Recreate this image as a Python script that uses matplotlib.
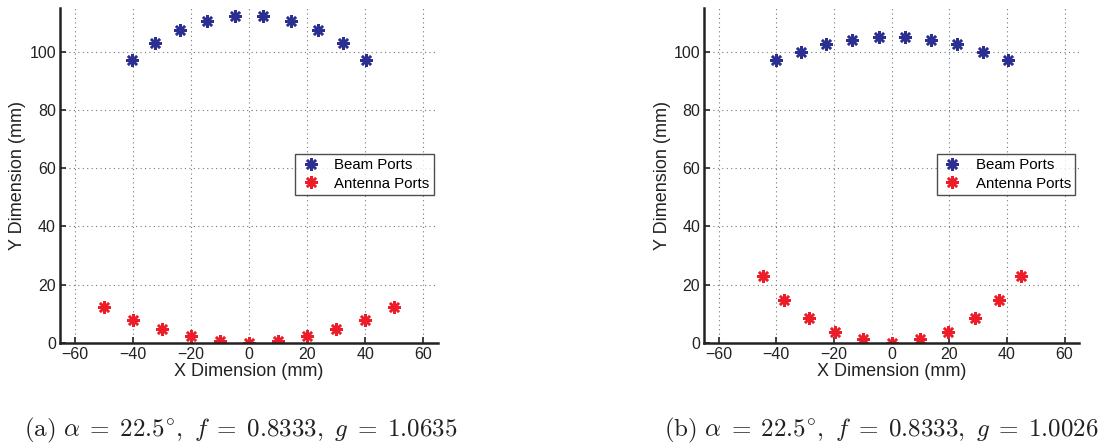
#!/usr/bin/env python3
# -*- coding: utf-8 -*-
"""
Beam port and antenna port positions for two lens designs
"""

import matplotlib.pyplot as plt

plt.rcParams["font.family"] = ["Liberation Sans", "DejaVu Sans"]
plt.rcParams["mathtext.fontset"] = "cm"

# port positions (mm), design (a)
beam_x_a = [-40.1, -32.5, -23.8, -14.6, -4.8, 4.8, 14.6, 23.8, 32.5, 40.1]
beam_y_a = [97.0, 102.9, 107.5, 110.5, 112.3, 112.3, 110.5, 107.5, 102.9, 97.0]
ant_x_a = [-50, -40, -30, -20, -10, 0, 10, 20, 30, 40, 50]
ant_y_a = [12.3, 7.9, 4.7, 2.3, 0.6, 0.0, 0.6, 2.3, 4.7, 7.9, 12.3]

# port positions (mm), design (b)
beam_x_b = [-40.2, -31.6, -22.8, -13.6, -4.5, 4.5, 13.6, 22.8, 31.6, 40.2]
beam_y_b = [97.0, 99.9, 102.6, 104.1, 105.0, 105.0, 104.1, 102.6, 99.9, 97.0]
ant_x_b = [-44.7, -37.2, -28.8, -19.6, -9.9, 0, 9.9, 19.6, 28.8, 37.2, 44.7]
ant_y_b = [22.8, 14.7, 8.4, 3.8, 1.2, 0.0, 1.2, 3.8, 8.4, 14.7, 22.8]

captions = [
    r"$\mathrm{(a)}\ \alpha\;=\;22.5^{\circ},\ f\;=\;0.8333,\ g\;=\;1.0635$",
    r"$\mathrm{(b)}\ \alpha\;=\;22.5^{\circ},\ f\;=\;0.8333,\ g\;=\;1.0026$",
]

x_ticks = [-60, -40, -20, 0, 20, 40, 60]
y_ticks = [0, 20, 40, 60, 80, 100]

blue = "#2b3090"
red = "#ec1c28"

fig = plt.figure(figsize=(11.06, 4.48), dpi=100)

panels = [
    (beam_x_a, beam_y_a, ant_x_a, ant_y_a, [0.0543, 0.235, 0.3417, 0.747], 0.218),
    (beam_x_b, beam_y_b, ant_x_b, ant_y_b, [0.6368, 0.235, 0.3388, 0.747], 0.797),
]

for (bx, by, ax_, ay, pos, cap_x), caption in zip(panels, captions):
    ax = fig.add_axes(pos)

    ax.plot(bx, by, linestyle="none", marker=(8, 2, 0), markersize=9,
            markeredgewidth=1.8, color=blue, label="Beam Ports")
    ax.plot(ax_, ay, linestyle="none", marker=(8, 2, 0), markersize=9,
            markeredgewidth=1.8, color=red, label="Antenna Ports")

    ax.set_xlim(-65, 65)
    ax.set_ylim(0, 115)
    ax.set_xticks(x_ticks)
    ax.set_yticks(y_ticks)
    ax.set_xticklabels(["\u221260", "\u221240", "\u221220", "0", "20", "40", "60"])

    ax.grid(True, linestyle=(0, (1, 3)), color="#777777", linewidth=0.8)
    ax.set_axisbelow(True)

    for side in ["top", "right"]:
        ax.spines[side].set_visible(False)
    for side in ["left", "bottom"]:
        ax.spines[side].set_linewidth(1.8)
        ax.spines[side].set_color("#222222")

    ax.tick_params(direction="in", length=4, width=1.2, labelsize=11.5,
                   colors="#222222", pad=3)

    ax.set_xlabel("X Dimension (mm)", fontsize=13, color="#222222", labelpad=1)
    ax.set_ylabel("Y Dimension (mm)", fontsize=13, color="#222222", labelpad=2)

    leg = ax.legend(loc="upper right", bbox_to_anchor=(0.99, 0.565),
                    fontsize=10.8, frameon=True, fancybox=False,
                    handletextpad=0.8, borderpad=0.3, labelspacing=0.3,
                    handlelength=1.5, borderaxespad=0)
    leg.get_frame().set_edgecolor("#222222")
    leg.get_frame().set_linewidth(1.0)

    fig.text(cap_x, 0.025, caption, fontsize=18, ha="center", va="baseline",
             color="#222222")

plt.savefig("out.png", dpi=100)
